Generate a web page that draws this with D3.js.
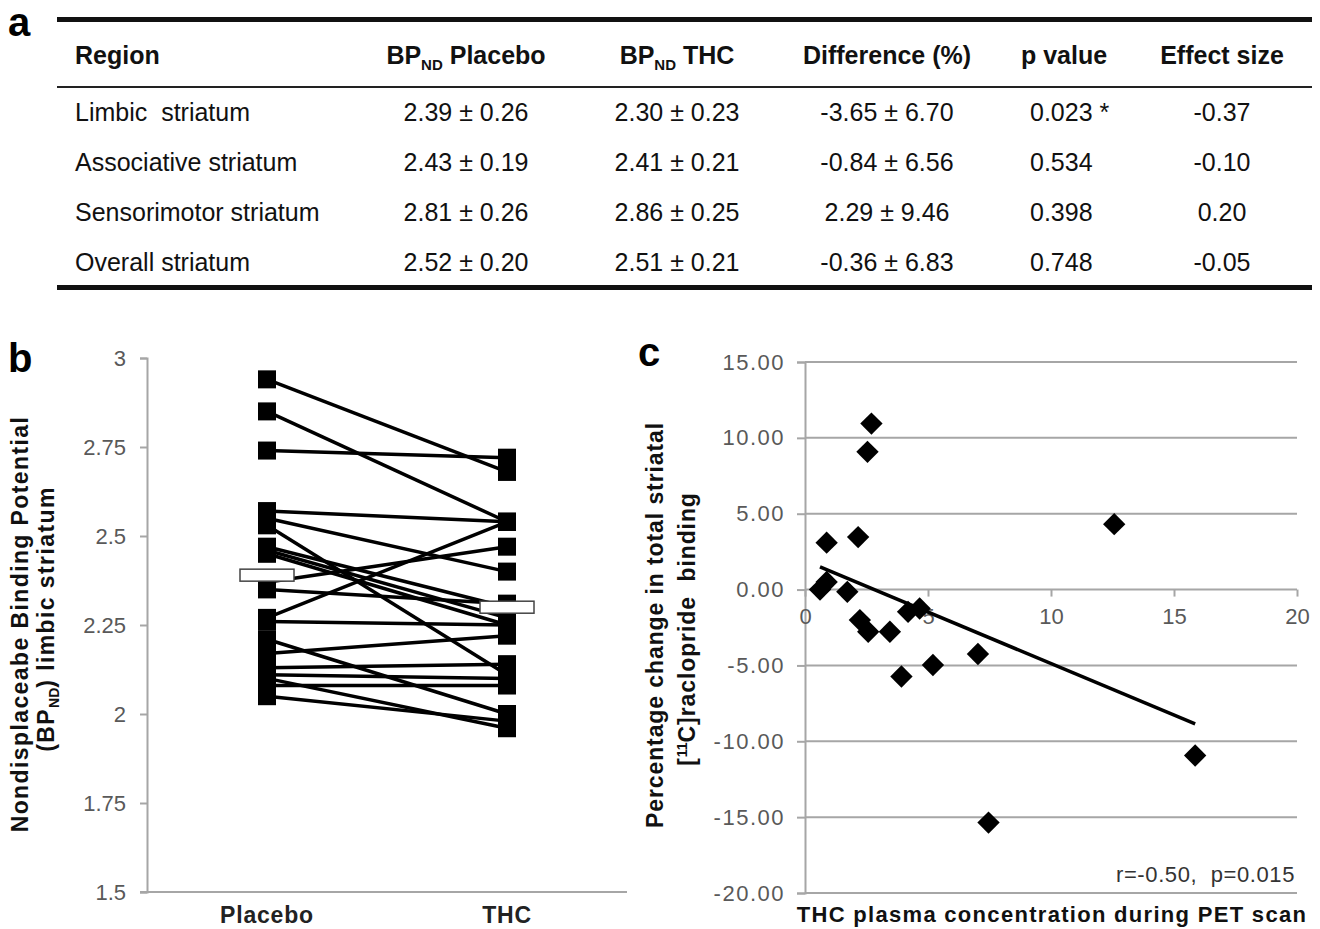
<!DOCTYPE html>
<html>
<head>
<meta charset="utf-8">
<script src="https://cdn.jsdelivr.net/npm/d3@7"></script>
<style>
  html, body { margin: 0; padding: 0; background: #fff; }
  svg { display: block; font-family: "Liberation Sans", Arial, sans-serif; }
  text { white-space: pre; }
</style>
</head>
<body>
<div id="chart"></div>
<script>
// ---- table (panel a)
const tableHeaders = ['Region', 'Placebo', 'THC', 'Difference (%)', 'p value', 'Effect size']
const regions = ['Limbic  striatum', 'Associative striatum', 'Sensorimotor striatum', 'Overall striatum']
const bpPlacebo = ['2.39 \u00b1 0.26', '2.43 \u00b1 0.19', '2.81 \u00b1 0.26', '2.52 \u00b1 0.20']
const bpThc = ['2.30 \u00b1 0.23', '2.41 \u00b1 0.21', '2.86 \u00b1 0.25', '2.51 \u00b1 0.21']
const diffPct = ['-3.65 \u00b1 6.70', '-0.84 \u00b1 6.56', '2.29 \u00b1 9.46', '-0.36 \u00b1 6.83']
const pValues = ['0.023 *', '0.534', '0.398', '0.748']
const effectSizes = ['-0.37', '-0.10', '0.20', '-0.05']

// ---- paired BPND values (panel b)
const groups = ['Placebo', 'THC']
const placeboBP = [2.94, 2.85, 2.74, 2.57, 2.55, 2.53, 2.47, 2.46, 2.45, 2.37,
                   2.35, 2.27, 2.26, 2.21, 2.17, 2.13, 2.11, 2.10, 2.08, 2.05]
const thcBP =     [2.68, 2.54, 2.72, 2.54, 2.40, 2.11, 2.30, 2.27, 2.25, 2.47,
                   2.31, 2.54, 2.25, 2.00, 2.22, 2.14, 2.10, 1.96, 2.08, 1.98]
const groupMeans = [2.39, 2.30]
const bTicks = [1.5, 1.75, 2, 2.25, 2.5, 2.75, 3]

// ---- scatter (panel c)
const thcPlasma = [2.70, 2.54, 0.88, 2.16, 0.61, 0.88, 1.72, 2.23, 2.57, 3.45,
                   4.19, 4.66, 3.92, 5.20, 7.03, 7.46, 12.57, 15.86]
const bindingChange = [10.94, 9.08, 3.09, 3.46, 0.00, 0.50, -0.15, -2.01, -2.78, -2.78,
                       -1.47, -1.25, -5.73, -4.97, -4.25, -15.36, 4.31, -10.94]
const cYTicks = [15, 10, 5, 0, -5, -10, -15, -20]
const cXTicks = [0, 5, 10, 15, 20]

const W = 1320, H = 929
const FONT = '"Liberation Sans", Arial, sans-serif'
const GRID = '#a6a6a6'
const TICKTXT = '#595959'

const svg = d3.select('#chart').append('svg')
  .attr('width', W).attr('height', H)

// panel letters
const letters = [['a', 8, 36], ['b', 8, 372], ['c', 638, 366]]
svg.selectAll('text.letter').data(letters).enter().append('text')
  .attr('class', 'letter')
  .attr('x', d => d[1]).attr('y', d => d[2])
  .attr('font-size', 40).attr('font-weight', 'bold')
  .text(d => d[0])

// ================= panel a: table =================
const tA = svg.append('g')
const colX = [75, 466, 677, 887, 1030, 1222]
const headX = [75, 466, 677, 887, 1064, 1222]
const headAnchor = ['start', 'middle', 'middle', 'middle', 'middle', 'middle']
const cellAnchor = ['start', 'middle', 'middle', 'middle', 'start', 'middle']
const rowY = [112, 162, 212, 262]
const headY = 55
const fs = 25

tA.append('rect').attr('x', 57).attr('y', 17).attr('width', 1255).attr('height', 5).attr('fill', '#111')
tA.append('rect').attr('x', 57).attr('y', 86).attr('width', 1255).attr('height', 2).attr('fill', '#222')
tA.append('rect').attr('x', 57).attr('y', 285).attr('width', 1255).attr('height', 5).attr('fill', '#111')

tableHeaders.forEach((h, i) => {
  const t = tA.append('text')
    .attr('x', headX[i]).attr('y', headY + fs * 0.36)
    .attr('text-anchor', headAnchor[i])
    .attr('font-size', fs).attr('font-weight', 'bold').attr('fill', '#111')
  if (i === 1 || i === 2) {
    t.append('tspan').text('BP')
    t.append('tspan').attr('font-size', 15).attr('dy', 6).text('ND')
    t.append('tspan').attr('dy', -6).text(' ' + h)
  } else {
    t.text(h)
  }
})

const columns = [regions, bpPlacebo, bpThc, diffPct, pValues, effectSizes]
columns.forEach((col, ci) => {
  tA.selectAll(null).data(col).enter().append('text')
    .attr('x', colX[ci])
    .attr('y', (d, ri) => rowY[ri] + fs * 0.36)
    .attr('text-anchor', cellAnchor[ci])
    .attr('font-size', fs).attr('fill', '#111')
    .text(d => d)
})

// ================= panel b: paired plot =================
const bX = d3.scalePoint().domain(groups).range([147, 627]).padding(0.5)
const bY = d3.scaleLinear().domain([1.5, 3]).range([892, 358])
const gB = svg.append('g')

gB.append('g')
  .attr('transform', 'translate(147,0)')
  .call(d3.axisLeft(bY).tickValues(bTicks).tickSize(7).tickPadding(14).tickFormat(d => String(d)))
  .call(g => g.select('.domain').attr('stroke', GRID).attr('stroke-width', 2))
  .call(g => g.selectAll('.tick line').attr('stroke', GRID).attr('stroke-width', 2))
  .call(g => g.selectAll('.tick text').attr('fill', TICKTXT).attr('font-size', 22).attr('font-family', FONT))

gB.append('line')
  .attr('x1', 140).attr('x2', 627).attr('y1', bY(1.5)).attr('y2', bY(1.5))
  .attr('stroke', GRID).attr('stroke-width', 2)

gB.selectAll('text.grp').data(groups).enter().append('text')
  .attr('class', 'grp')
  .attr('x', d => bX(d)).attr('y', 923)
  .attr('text-anchor', 'middle').attr('font-size', 23).attr('font-weight', 'bold').attr('fill', '#222')
  .attr('letter-spacing', 0.8)
  .text(d => d)

const pairs = placeboBP.map((p, i) => ({ p, t: thcBP[i] }))
gB.selectAll('line.pair').data(pairs).enter().append('line')
  .attr('class', 'pair')
  .attr('x1', bX('Placebo')).attr('x2', bX('THC'))
  .attr('y1', d => bY(d.p)).attr('y2', d => bY(d.t))
  .attr('stroke', '#000').attr('stroke-width', 3.5)

const sq = 18
gB.selectAll('rect.pl').data(placeboBP).enter().append('rect')
  .attr('x', bX('Placebo') - sq / 2).attr('y', d => bY(d) - sq / 2)
  .attr('width', sq).attr('height', sq).attr('fill', '#000')
gB.selectAll('rect.th').data(thcBP).enter().append('rect')
  .attr('x', bX('THC') - sq / 2).attr('y', d => bY(d) - sq / 2)
  .attr('width', sq).attr('height', sq).attr('fill', '#000')

gB.selectAll('rect.mean').data(groupMeans).enter().append('rect')
  .attr('x', (d, i) => bX(groups[i]) - 27).attr('y', d => bY(d) - 6)
  .attr('width', 54).attr('height', 12)
  .attr('fill', '#fff').attr('stroke', '#444').attr('stroke-width', 1.5)

const bTitle = gB.append('g').attr('font-size', 23).attr('font-weight', 'bold').attr('fill', '#111')
  .attr('letter-spacing', 1.4)
bTitle.append('text')
  .attr('transform', 'translate(28,624) rotate(-90)')
  .attr('text-anchor', 'middle')
  .text('Nondisplaceabe Binding Potential')
const bt2 = bTitle.append('text')
  .attr('transform', 'translate(54,619) rotate(-90)')
  .attr('text-anchor', 'middle')
bt2.append('tspan').text('(BP')
bt2.append('tspan').attr('font-size', 14).attr('dy', 5).attr('letter-spacing', 0).text('ND')
bt2.append('tspan').attr('dy', -5).text(') limbic striatum')

// ================= panel c: scatter =================
const cX = d3.scaleLinear().domain([0, 20]).range([805, 1297])
const cY = d3.scaleLinear().domain([-20, 15]).range([893, 362])
const gC = svg.append('g')

gC.selectAll('line.grid').data(cYTicks).enter().append('line')
  .attr('x1', cX(0)).attr('x2', cX(20))
  .attr('y1', d => cY(d)).attr('y2', d => cY(d))
  .attr('stroke', GRID).attr('stroke-width', 2)

gC.append('g')
  .attr('transform', `translate(${cX(0)},0)`)
  .call(d3.axisLeft(cY).tickValues(cYTicks).tickSize(8).tickPadding(12).tickFormat(d => d.toFixed(2)))
  .call(g => g.select('.domain').attr('stroke', GRID).attr('stroke-width', 2))
  .call(g => g.selectAll('.tick line').attr('stroke', GRID).attr('stroke-width', 2))
  .call(g => g.selectAll('.tick text').attr('fill', TICKTXT).attr('font-size', 22)
    .attr('font-family', FONT).attr('letter-spacing', 1.5))

gC.append('g')
  .attr('transform', `translate(0,${cY(0)})`)
  .call(d3.axisBottom(cX).tickValues(cXTicks).tickSize(7).tickPadding(12).tickSizeOuter(0).tickFormat(d => String(d)))
  .call(g => g.select('.domain').remove())
  .call(g => g.selectAll('.tick line').attr('stroke', GRID).attr('stroke-width', 2))
  .call(g => g.selectAll('.tick text').attr('fill', TICKTXT).attr('font-size', 22).attr('font-family', FONT))

// least squares trend line
const pts = thcPlasma.map((x, i) => ({ x, y: bindingChange[i] }))
const mx = d3.mean(pts, d => d.x), my = d3.mean(pts, d => d.y)
const slope = d3.sum(pts, d => (d.x - mx) * (d.y - my)) / d3.sum(pts, d => (d.x - mx) ** 2)
const icpt = my - slope * mx
const [xMin, xMax] = d3.extent(thcPlasma)
gC.append('line')
  .attr('x1', cX(xMin)).attr('y1', cY(icpt + slope * xMin))
  .attr('x2', cX(xMax)).attr('y2', cY(icpt + slope * xMax))
  .attr('stroke', '#000').attr('stroke-width', 3.5)

gC.selectAll('path.pt').data(pts).enter().append('path')
  .attr('d', d3.symbol(d3.symbolSquare, 250)())
  .attr('transform', d => `translate(${cX(d.x)},${cY(d.y)}) rotate(45)`)
  .attr('fill', '#000')

gC.append('text')
  .attr('x', 1295).attr('y', 882)
  .attr('text-anchor', 'end').attr('font-size', 22).attr('fill', '#333')
  .attr('letter-spacing', 0.6)
  .text('r=-0.50,  p=0.015')

gC.append('text')
  .attr('x', 1052).attr('y', 922)
  .attr('text-anchor', 'middle').attr('font-size', 22).attr('font-weight', 'bold').attr('fill', '#111')
  .attr('letter-spacing', 1.3)
  .text('THC plasma concentration during PET scan')

const cTitle = gC.append('g').attr('font-size', 23).attr('font-weight', 'bold').attr('fill', '#111')
  .attr('letter-spacing', 0.9)
cTitle.append('text')
  .attr('transform', 'translate(663,625) rotate(-90)')
  .attr('text-anchor', 'middle')
  .text('Percentage change in total striatal')
const ct2 = cTitle.append('text')
  .attr('transform', 'translate(695,629) rotate(-90)')
  .attr('text-anchor', 'middle')
ct2.append('tspan').text('[')
ct2.append('tspan').attr('font-size', 14).attr('dy', -8).attr('letter-spacing', 0).text('11')
ct2.append('tspan').attr('dy', 8).text('C]raclopride  binding')
</script>
</body>
</html>
